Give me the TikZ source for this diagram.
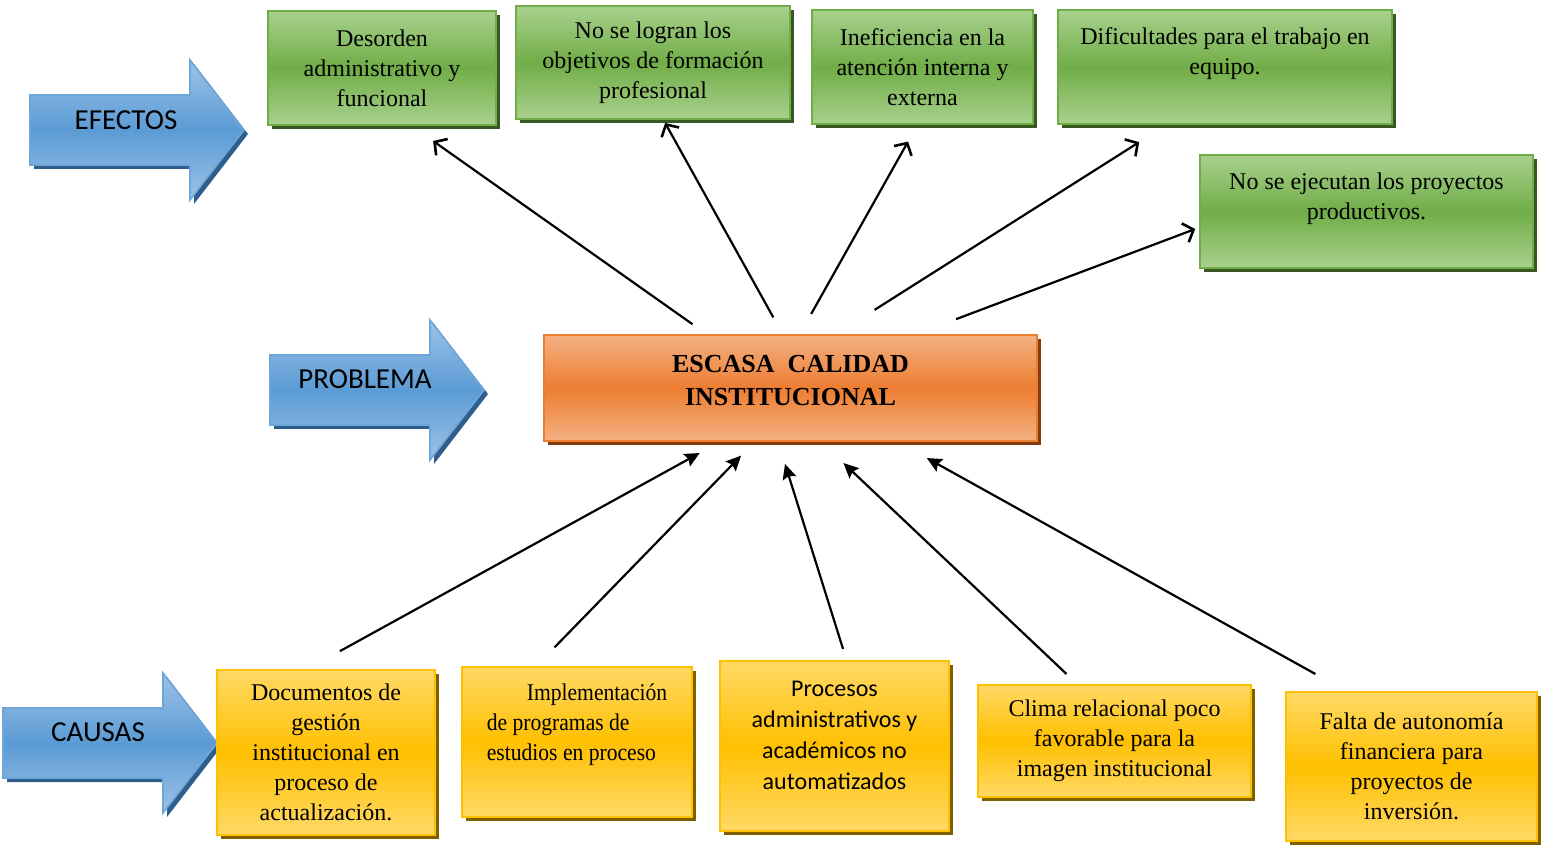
\documentclass[tikz,border=0pt]{standalone}
\usepackage{fontspec}
\setmainfont{Liberation Serif}
\newfontfamily\calibri{Carlito}
\newfontfamily\condserif{Liberation Serif}[FakeStretch=0.9]
\usetikzlibrary{arrows.meta, calc, shadows}

\definecolor{effectlight}{HTML}{A9D18E}
\definecolor{effectdark}{HTML}{70AD47}
\definecolor{effectshadow}{HTML}{385723}
\definecolor{problight}{HTML}{F4B183}
\definecolor{probdark}{HTML}{ED7D31}
\definecolor{probshadow}{HTML}{843C0C}
\definecolor{causelight}{HTML}{FFD966}
\definecolor{causedark}{HTML}{FFC000}
\definecolor{causeshadow}{HTML}{7F6000}
\definecolor{arrowlight}{HTML}{9DC3E6}
\definecolor{arrowdark}{HTML}{5B9BD5}
\definecolor{arrowline}{HTML}{6FA6DA}
\definecolor{arrowshadow}{HTML}{2E5E8C}

\tikzset{
  blockarrow/.pic={
    \fill[arrowshadow] (4,4) -- (164,4) -- (164,-31) -- (218,39) -- (164,109) -- (164,74) -- (4,74) -- cycle;
    \shade[draw=arrowline, line width=0.8pt, top color=arrowlight, bottom color=arrowlight, middle color=arrowdark]
      (0,0) -- (160,0) -- (160,-35) -- (214,35) -- (160,105) -- (160,70) -- (0,70) -- cycle;
  }
}

\begin{document}
\begin{tikzpicture}[
  x=0.5pt, y=-0.5pt,
  box/.style={draw, line width=1pt, align=center, inner sep=2pt, font=\fontsize{12}{15}\selectfont},
  effect/.style={box, draw=effectdark, top color=effectlight, bottom color=effectlight, middle color=effectdark,
    drop shadow={shadow xshift=2pt, shadow yshift=-2pt, fill=effectshadow, opacity=1}},
  problem/.style={box, draw=probdark, top color=problight, bottom color=problight, middle color=probdark,
    font=\fontsize{13}{16.5}\selectfont\bfseries,
    drop shadow={shadow xshift=2pt, shadow yshift=-2pt, fill=probshadow, opacity=1}},
  cause/.style={box, draw=causedark, top color=causelight, bottom color=causelight, middle color=causedark,
    drop shadow={shadow xshift=2pt, shadow yshift=-2pt, fill=causeshadow, opacity=1}},
  arrowlabel/.style={inner sep=0pt, font=\calibri\fontsize{14.5}{16}\selectfont},
  effect link/.style={draw, line width=1.1pt, -{Straight Barb[length=4.5pt, width=10pt, line width=1.3pt]}},
  cause link/.style={draw, line width=1.1pt, -{Stealth[length=7.5pt, width=7pt, inset=1.2pt]}}
]
\useasboundingbox (0,0) rectangle (1549,845);

% Define the block arrows
\pic at (30,95) {blockarrow};
\pic at (270,355) {blockarrow};
\pic at (3,708) {blockarrow};
\node[arrowlabel] (efectos) at (126,120) {EFECTOS};
\node[arrowlabel] (problema) at (365,379) {PROBLEMA};
\node[arrowlabel] (causas) at (98,732) {CAUSAS};

% Define the nodes
\node[effect, minimum width=114pt, minimum height=57pt] (ef1) at (382,68) {Desorden\\administrativo y\\funcional};
\node[effect, minimum width=137pt, minimum height=56.5pt] (ef2) at (653,62.5) {No se logran los\\objetivos de formación\\profesional};
\node[effect, minimum width=110.5pt, minimum height=57pt] (ef3) at (922.5,67) {Ineficiencia en la\\atención interna y\\externa};
\node[effect, minimum width=167pt, minimum height=57pt, text depth=16pt] (ef4) at (1225,67) {Dificultades para el trabajo en\\equipo.};
\node[effect, minimum width=166.5pt, minimum height=56.5pt, text depth=15.7pt] (ef5) at (1366.5,211.5) {No se ejecutan los proyectos\\productivos.};

\node[problem, minimum width=246.5pt, minimum height=53pt, text depth=8pt] (prob) at (790.5,388) {ESCASA~~CALIDAD\\INSTITUCIONAL};

\node[cause, minimum width=109pt, minimum height=82.5pt] (ca1) at (326,752.5) {Documentos de\\gestión\\institucional en\\proceso de\\actualización.};
\node[cause, minimum width=115pt, minimum height=75pt, text depth=20pt, align=left, font=\condserif\fontsize{12}{15}\selectfont] (ca2) at (577,742) {\hspace*{20pt}Implementación\\de programas de\\estudios en proceso};
\node[cause, minimum width=114.5pt, minimum height=85pt, text depth=11pt, font=\calibri\fontsize{12}{15.5}\selectfont] (ca3) at (834.5,746) {Procesos\\administrativos y\\académicos no\\automatizados};
\node[cause, minimum width=136.5pt, minimum height=56pt] (ca4) at (1114.5,741) {Clima relacional poco\\favorable para la\\imagen institucional};
\node[cause, minimum width=125.5pt, minimum height=74.5pt] (ca5) at (1411.5,766.5) {Falta de autonomía\\financiera para\\proyectos de\\inversión.};

% Define the edges
\draw[effect link, shorten <=8.5pt, shorten >=13pt] ($(prob.north west)!.33!(prob.north east)$) -- ($(ef1.south west)!.63!(ef1.south east)$);
\draw[effect link, shorten <=9.5pt, shorten >=1.7pt] ($(prob.north west)!.484!(prob.north east)$) -- ($(ef2.south west)!.538!(ef2.south east)$);
\draw[effect link, shorten <=11.5pt, shorten >=9.5pt] ($(prob.north west)!.519!(prob.north east)$) -- ($(ef3.south west)!.477!(ef3.south east)$);
\draw[effect link, shorten <=22.5pt, shorten >=16pt] ($(prob.north west)!.593!(prob.north east)$) -- ($(ef4.south west)!.325!(ef4.south east)$);
\draw[effect link, shorten <=21pt, shorten >=2pt] ($(prob.north west)!.755!(prob.north east)$) -- ($(ef5.north west)!.64!(ef5.south west)$);
\draw[cause link, shorten <=18.5pt, shorten >=11.4pt] ($(ca1.north west)!.416!(ca1.north east)$) -- ($(prob.south west)!.357!(prob.south east)$);
\draw[cause link, shorten <=13pt, shorten >=9.5pt] ($(ca2.north west)!.325!(ca2.north east)$) -- ($(prob.south west)!.427!(prob.south east)$);
\draw[cause link, shorten <=5.8pt, shorten >=11.5pt] ($(ca3.north west)!.552!(ca3.north east)$) -- ($(prob.south west)!.475!(prob.south east)$);
\draw[cause link, shorten <=7.3pt, shorten >=15.3pt] ($(ca4.north west)!.364!(ca4.north east)$) -- ($(prob.south west)!.562!(prob.south east)$);
\draw[cause link, shorten <=17.5pt, shorten >=16.5pt] ($(ca5.north west)!.241!(ca5.north east)$) -- ($(prob.south west)!.717!(prob.south east)$);
\end{tikzpicture}
\end{document}
